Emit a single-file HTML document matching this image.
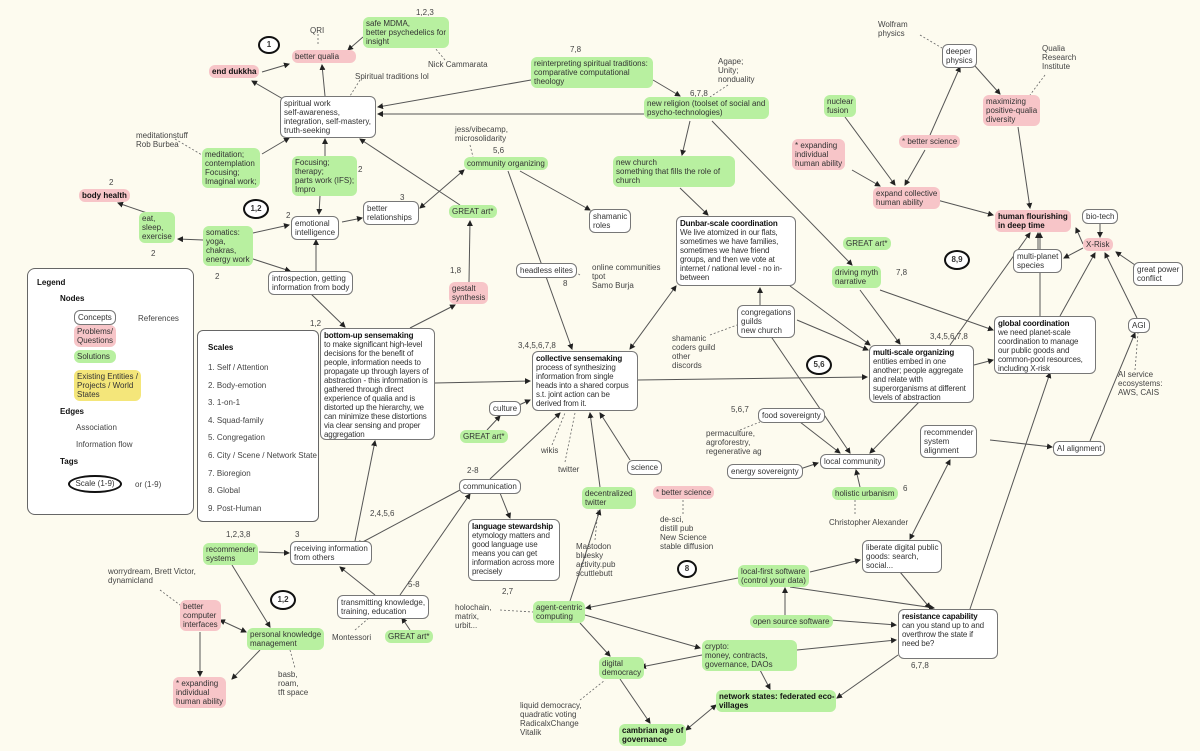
<!DOCTYPE html>
<html><head><meta charset="utf-8"><style>
body{margin:0;background:#fdfbef;}
#c{position:relative;width:1200px;height:751px;overflow:hidden;background:#fdfbef;font-family:"Liberation Sans",sans-serif;color:#333;}
.b{position:absolute;font-size:8px;line-height:9px;padding:2px 3px;border-radius:6px;box-sizing:border-box;white-space:nowrap}
.n{background:#fff;border:1px solid #777}
.p{background:#f7c5c8}
.g{background:#b8f0a0}
.t{position:absolute;font-size:8px;line-height:9px;white-space:nowrap;color:#444}
.cl{position:absolute;border:2.5px solid #111;border-radius:50%;font-size:8px;font-weight:bold;text-align:center;box-sizing:border-box;background:#fff}
.w{letter-spacing:-0.15px}
b{color:#111}
svg{position:absolute;left:0;top:0}
</style></head><body><div id="c">
<svg width="1200" height="751"><defs><marker id="a" markerWidth="6" markerHeight="6" refX="5" refY="3" orient="auto" markerUnits="userSpaceOnUse"><path d="M0,0L6,3L0,6z" fill="#222"/></marker><marker id="s" markerWidth="6" markerHeight="6" refX="1" refY="3" orient="auto" markerUnits="userSpaceOnUse"><path d="M6,0L0,3L6,6z" fill="#222"/></marker></defs>
<g stroke="#555" stroke-width="1" fill="none" marker-end="url(#a)">
<line x1="262" y1="72" x2="289" y2="64"/><line x1="325" y1="96" x2="322" y2="65"/><line x1="283" y1="99" x2="252" y2="81"/><line x1="363" y1="37" x2="348" y2="50"/>
<line x1="531" y1="80" x2="378" y2="107"/><line x1="644" y1="114" x2="378" y2="114"/><line x1="690" y1="121" x2="682" y2="155"/><line x1="712" y1="121" x2="852" y2="265"/>
<line x1="262" y1="154" x2="289" y2="138"/><line x1="325" y1="156" x2="325" y2="139"/><line x1="460" y1="205" x2="360" y2="139"/><line x1="320" y1="196" x2="319" y2="214"/>
<line x1="342" y1="222" x2="362" y2="218"/><line x1="464" y1="170" x2="420" y2="208" marker-start="url(#s)"/><line x1="520" y1="171" x2="590" y2="210"/><line x1="508" y1="171" x2="572" y2="349"/>
<line x1="469" y1="282" x2="470" y2="221"/><line x1="680" y1="188" x2="708" y2="215"/><line x1="150" y1="214" x2="118" y2="203"/><line x1="203" y1="240" x2="178" y2="239"/>
<line x1="253" y1="233" x2="289" y2="225"/><line x1="316" y1="271" x2="316" y2="240"/><line x1="250" y1="258" x2="290" y2="271"/><line x1="310" y1="293" x2="345" y2="327"/>
<line x1="410" y1="328" x2="455" y2="305"/><line x1="435" y1="383" x2="530" y2="381"/><line x1="676" y1="286" x2="630" y2="349" marker-start="url(#s)"/><line x1="638" y1="380" x2="867" y2="377"/>
<line x1="790" y1="286" x2="870" y2="345"/><line x1="860" y1="290" x2="900" y2="344"/><line x1="797" y1="320" x2="868" y2="350"/><line x1="760" y1="305" x2="760" y2="288"/>
<line x1="770" y1="335" x2="850" y2="453"/><line x1="974" y1="365" x2="993" y2="360"/><line x1="950" y1="345" x2="1030" y2="233"/><line x1="1040" y1="316" x2="1040" y2="233"/>
<line x1="1060" y1="316" x2="1095" y2="253"/><line x1="1083" y1="248" x2="1064" y2="258"/><line x1="1038" y1="249" x2="1038" y2="233"/><line x1="1100" y1="223" x2="1100" y2="237"/>
<line x1="1135" y1="265" x2="1116" y2="252"/><line x1="1137" y1="318" x2="1105" y2="253"/><line x1="1083" y1="244" x2="1076" y2="228"/><line x1="1090" y1="441" x2="1135" y2="333"/>
<line x1="990" y1="440" x2="1052" y2="447"/><line x1="880" y1="290" x2="993" y2="330"/><line x1="937" y1="200" x2="993" y2="215"/><line x1="925" y1="150" x2="905" y2="185"/>
<line x1="930" y1="135" x2="960" y2="67"/><line x1="845" y1="117" x2="895" y2="185"/><line x1="852" y1="170" x2="880" y2="186"/><line x1="975" y1="66" x2="1000" y2="94"/>
<line x1="1018" y1="127" x2="1030" y2="208"/><line x1="970" y1="609" x2="1050" y2="373"/><line x1="860" y1="487" x2="856" y2="470"/><line x1="800" y1="422" x2="840" y2="453"/>
<line x1="797" y1="470" x2="818" y2="463"/><line x1="920" y1="401" x2="870" y2="453"/><line x1="950" y1="460" x2="910" y2="539" marker-start="url(#s)"/><line x1="487" y1="430" x2="500" y2="416"/>
<line x1="490" y1="479" x2="560" y2="413"/><line x1="630" y1="460" x2="600" y2="413"/><line x1="600" y1="487" x2="590" y2="413"/><line x1="460" y1="490" x2="357" y2="545"/>
<line x1="500" y1="493" x2="510" y2="518"/><line x1="400" y1="595" x2="470" y2="494"/><line x1="375" y1="595" x2="340" y2="567"/><line x1="355" y1="541" x2="375" y2="441"/>
<line x1="259" y1="552" x2="289" y2="553"/><line x1="232" y1="565" x2="270" y2="627"/><line x1="220" y1="620" x2="246" y2="632" marker-start="url(#s)"/><line x1="200" y1="632" x2="200" y2="676"/>
<line x1="260" y1="650" x2="232" y2="679"/><line x1="410" y1="630" x2="402" y2="618"/><line x1="570" y1="601" x2="600" y2="510"/><line x1="738" y1="578" x2="586" y2="608"/>
<line x1="810" y1="572" x2="860" y2="560"/><line x1="790" y1="587" x2="934" y2="608"/><line x1="785" y1="615" x2="785" y2="588"/><line x1="830" y1="620" x2="896" y2="625"/>
<line x1="797" y1="650" x2="896" y2="640"/><line x1="702" y1="655" x2="641" y2="667"/><line x1="580" y1="623" x2="610" y2="656"/><line x1="585" y1="615" x2="700" y2="648"/>
<line x1="900" y1="572" x2="930" y2="608"/><line x1="620" y1="679" x2="650" y2="723"/><line x1="716" y1="705" x2="686" y2="730" marker-start="url(#s)"/><line x1="760" y1="670" x2="770" y2="689"/>
<line x1="898" y1="655" x2="837" y2="698"/><line x1="653" y1="80" x2="680" y2="96"/><line x1="519" y1="405" x2="530" y2="400"/>
<line x1="100" y1="442" x2="178" y2="437"/>
</g>
<g stroke="#666" stroke-width="0.8" fill="none" stroke-dasharray="2,2">
<line x1="318" y1="34" x2="318" y2="46"/><line x1="445" y1="60" x2="435" y2="48"/><line x1="360" y1="80" x2="350" y2="96"/><line x1="728" y1="85" x2="710" y2="97"/>
<line x1="470" y1="145" x2="473" y2="157"/><line x1="1045" y1="75" x2="1030" y2="95"/><line x1="920" y1="35" x2="942" y2="48"/><line x1="1135" y1="370" x2="1138" y2="333"/>
<line x1="552" y1="445" x2="565" y2="413"/><line x1="565" y1="462" x2="575" y2="413"/><line x1="160" y1="590" x2="180" y2="605"/><line x1="595" y1="540" x2="598" y2="510"/>
<line x1="580" y1="700" x2="605" y2="680"/><line x1="500" y1="610" x2="533" y2="612"/><line x1="683" y1="500" x2="683" y2="515"/><line x1="290" y1="650" x2="295" y2="668"/>
<line x1="355" y1="630" x2="370" y2="617"/><line x1="580" y1="275" x2="572" y2="270"/><line x1="710" y1="335" x2="737" y2="325"/><line x1="175" y1="139" x2="202" y2="155"/>
<line x1="855" y1="500" x2="855" y2="516"/><line x1="740" y1="430" x2="760" y2="422"/><line x1="100" y1="424" x2="178" y2="419"/>
</g></svg>

<div class="cl" style="left:258px;top:36px;width:22px;height:18px;line-height:13px">1</div>
<div class="cl" style="left:243px;top:199px;width:26px;height:20px;line-height:15px">1,2</div>
<div class="cl" style="left:806px;top:355px;width:26px;height:20px;line-height:15px">5,6</div>
<div class="cl" style="left:944px;top:250px;width:26px;height:20px;line-height:15px">8,9</div>
<div class="cl" style="left:270px;top:590px;width:26px;height:20px;line-height:15px">1,2</div>
<div class="cl" style="left:677px;top:560px;width:20px;height:18px;line-height:13px">8</div>

<div class="t" style="left:310px;top:26px">QRI</div>
<div class="t" style="left:416px;top:8px">1,2,3</div>
<div class="b p" style="left:292px;top:50px;width:64px">better qualia</div>
<div class="b g" style="left:363px;top:17px">safe MDMA,<br>better psychedelics for<br>insight</div>
<div class="t" style="left:428px;top:60px">Nick Cammarata</div>
<div class="b p" style="left:209px;top:65px"><b>end dukkha</b></div>
<div class="t" style="left:355px;top:72px">Spiritual traditions lol</div>
<div class="b n" style="left:280px;top:96px;width:96px">spiritual work<br>self-awareness,<br>integration, self-mastery,<br>truth-seeking</div>
<div class="t" style="left:570px;top:45px">7,8</div>
<div class="b g" style="left:531px;top:57px;width:122px">reinterpreting spiritual traditions:<br>comparative computational<br>theology</div>
<div class="t" style="left:718px;top:57px">Agape;<br>Unity;<br>nonduality</div>
<div class="t" style="left:690px;top:89px">6,7,8</div>
<div class="b g" style="left:644px;top:97px;width:125px">new religion (toolset of social and<br>psycho-technologies)</div>
<div class="t" style="left:136px;top:131px">meditationstuff<br>Rob Burbea</div>
<div class="b g" style="left:202px;top:148px">meditation;<br>contemplation<br>Focusing;<br>Imaginal work;</div>
<div class="b g" style="left:292px;top:156px">Focusing;<br>therapy;<br>parts work (IFS);<br>Impro</div>
<div class="t" style="left:358px;top:165px">2</div>
<div class="t" style="left:455px;top:125px">jess/vibecamp,<br>microsolidarity</div>
<div class="t" style="left:493px;top:146px">5,6</div>
<div class="b g" style="left:464px;top:157px">community organizing</div>
<div class="b g" style="left:613px;top:156px;width:122px">new church<br>something that fills the role of<br>church</div>
<div class="t" style="left:109px;top:178px">2</div>
<div class="b p" style="left:79px;top:189px"><b>body health</b></div>
<div class="b g" style="left:139px;top:212px">eat,<br>sleep,<br>exercise</div>
<div class="t" style="left:400px;top:193px">3</div>
<div class="b n" style="left:363px;top:201px;width:56px">better<br>relationships</div>
<div class="t" style="left:286px;top:211px">2</div>
<div class="b n" style="left:291px;top:216px">emotional<br>intelligence</div>
<div class="b g" style="left:449px;top:205px">GREAT art*</div>
<div class="b n" style="left:589px;top:209px">shamanic<br>roles</div>
<div class="b n w" style="left:676px;top:216px;width:120px;height:70px"><b>Dunbar-scale coordination</b><br>We live atomized in our flats,<br>sometimes we have families,<br>sometimes we have friend<br>groups, and then we vote at<br>internet / national level - no in-<br>between</div>
<div class="b g" style="left:203px;top:226px">somatics:<br>yoga,<br>chakras,<br>energy work</div>
<div class="t" style="left:151px;top:249px">2</div>
<div class="t" style="left:215px;top:272px">2</div>
<div class="b n" style="left:268px;top:271px">introspection, getting<br>information from body</div>
<div class="b n" style="left:516px;top:263px">headless elites</div>
<div class="t" style="left:563px;top:279px">8</div>
<div class="t" style="left:592px;top:263px">online communities<br>tpot<br>Samo Burja</div>
<div class="t" style="left:450px;top:266px">1,8</div>
<div class="b p" style="left:449px;top:282px">gestalt<br>synthesis</div>
<div class="b g" style="left:843px;top:237px">GREAT art*</div>
<div class="b g" style="left:832px;top:266px">driving myth<br>narrative</div>
<div class="t" style="left:896px;top:268px">7,8</div>

<div style="position:absolute;left:27px;top:268px;width:165px;height:245px;border:1px solid #666;border-radius:8px;background:#fff"></div>
<div class="t" style="left:37px;top:278px"><b>Legend</b></div>
<div class="t" style="left:60px;top:294px"><b>Nodes</b></div>
<div class="b n" style="left:74px;top:310px;width:42px">Concepts</div>
<div class="t" style="left:138px;top:314px">References</div>
<div class="b p" style="left:74px;top:325px">Problems/<br>Questions</div>
<div class="b g" style="left:74px;top:350px;width:42px">Solutions</div>
<div class="b" style="left:74px;top:370px;background:#f4e67a">Existing Entities /<br>Projects / World<br>States</div>
<div class="t" style="left:60px;top:407px"><b>Edges</b></div>
<div class="t" style="left:76px;top:423px">Association</div>
<div class="t" style="left:76px;top:440px">Information flow</div>
<div class="t" style="left:60px;top:457px"><b>Tags</b></div>
<div class="cl" style="left:68px;top:475px;width:54px;height:18px;line-height:13px;font-weight:normal">Scale (1-9)</div>
<div class="t" style="left:135px;top:480px">or  (1-9)</div>

<div style="position:absolute;left:197px;top:330px;width:120px;height:190px;border:1px solid #666;border-radius:6px;background:#fff"></div>
<div class="t" style="left:208px;top:343px"><b>Scales</b></div>
<div class="t" style="left:208px;top:359px;line-height:17.6px">1. Self / Attention<br>2. Body-emotion<br>3. 1-on-1<br>4. Squad-family<br>5. Congregation<br>6. City / Scene / Network State<br>7. Bioregion<br>8. Global<br>9. Post-Human</div>

<div class="t" style="left:310px;top:319px">1,2</div>
<div class="b n w" style="left:320px;top:328px;width:115px;height:112px"><b>bottom-up sensemaking</b><br>to make significant high-level<br>decisions for the benefit of<br>people, information needs to<br>propagate up through layers of<br>abstraction - this information is<br>gathered through direct<br>experience of qualia and is<br>distorted up the hierarchy, we<br>can minimize these distortions<br>via clear sensing and proper<br>aggregation</div>
<div class="t" style="left:518px;top:341px">3,4,5,6,7,8</div>
<div class="b n w" style="left:532px;top:351px;width:106px;height:60px"><b>collective sensemaking</b><br>process of synthesizing<br>information from single<br>heads into a shared corpus<br>s.t. joint action can be<br>derived from it.</div>
<div class="b n" style="left:737px;top:305px">congregations<br>guilds<br>new church</div>
<div class="t" style="left:672px;top:334px">shamanic<br>coders guild<br>other<br>discords</div>
<div class="t" style="left:930px;top:332px">3,4,5,6,7,8</div>
<div class="b n w" style="left:869px;top:345px;width:105px;height:58px"><b>multi-scale organizing</b><br>entities embed in one<br>another; people aggregate<br>and relate with<br>superorganisms at different<br>levels of abstraction</div>
<div class="b n w" style="left:994px;top:316px;width:102px;height:58px"><b>global coordination</b><br>we need planet-scale<br>coordination to manage<br>our public goods and<br>common-pool resources,<br>including X-risk</div>
<div class="b n" style="left:1128px;top:318px">AGI</div>
<div class="t" style="left:1118px;top:370px">AI service<br>ecosystems:<br>AWS, CAIS</div>
<div class="b p" style="left:995px;top:210px"><b>human flourishing<br>in deep time</b></div>
<div class="b n" style="left:1082px;top:209px">bio-tech</div>
<div class="b p" style="left:1083px;top:238px">X-Risk</div>
<div class="b n" style="left:1013px;top:249px">multi-planet<br>species</div>
<div class="b n" style="left:1133px;top:262px">great power<br>conflict</div>
<div class="t" style="left:878px;top:20px">Wolfram<br>physics</div>
<div class="b n" style="left:942px;top:44px">deeper<br>physics</div>
<div class="t" style="left:1042px;top:44px">Qualia<br>Research<br>Institute</div>
<div class="b g" style="left:824px;top:95px">nuclear<br>fusion</div>
<div class="b p" style="left:983px;top:95px">maximizing<br>positive-qualia<br>diversity</div>
<div class="b p" style="left:792px;top:139px">* expanding<br>individual<br>human ability</div>
<div class="b p" style="left:899px;top:135px">* better science</div>
<div class="b p" style="left:873px;top:187px">expand collective<br>human ability</div>
<div class="b n" style="left:489px;top:401px">culture</div>
<div class="b g" style="left:460px;top:430px">GREAT art*</div>
<div class="t" style="left:541px;top:446px">wikis</div>
<div class="t" style="left:558px;top:465px">twitter</div>
<div class="b n" style="left:627px;top:460px">science</div>
<div class="b p" style="left:653px;top:486px">* better science</div>
<div class="t" style="left:660px;top:515px">de-sci,<br>distill pub<br>New Science<br>stable diffusion</div>
<div class="b g" style="left:582px;top:487px">decentralized<br>twitter</div>
<div class="t" style="left:731px;top:405px">5,6,7</div>
<div class="b n" style="left:758px;top:408px">food sovereignty</div>
<div class="t" style="left:706px;top:429px">permaculture,<br>agroforestry,<br>regenerative ag</div>
<div class="b n" style="left:727px;top:464px">energy sovereignty</div>
<div class="b n" style="left:820px;top:454px">local community</div>
<div class="b g" style="left:832px;top:487px">holistic urbanism</div>
<div class="t" style="left:903px;top:484px">6</div>
<div class="t" style="left:829px;top:518px">Christopher Alexander</div>
<div class="b n" style="left:920px;top:425px">recommender<br>system<br>alignment</div>
<div class="b n" style="left:1053px;top:441px">AI  alignment</div>
<div class="t" style="left:467px;top:466px">2-8</div>
<div class="b n" style="left:459px;top:479px">communication</div>
<div class="t" style="left:370px;top:509px">2,4,5,6</div>
<div class="b n w" style="left:468px;top:519px;width:92px;height:62px"><b>language stewardship</b><br>etymology matters and<br>good language use<br>means you can get<br>information across more<br>precisely</div>
<div class="t" style="left:226px;top:530px">1,2,3,8</div>
<div class="t" style="left:295px;top:530px">3</div>
<div class="b g" style="left:203px;top:543px">recommender<br>systems</div>
<div class="b n" style="left:290px;top:541px">receiving information<br>from others</div>
<div class="t" style="left:108px;top:567px">worrydream, Brett Victor,<br>dynamicland</div>
<div class="b p" style="left:180px;top:600px">better<br>computer<br>interfaces</div>
<div class="t" style="left:408px;top:580px">5-8</div>
<div class="b n" style="left:337px;top:595px">transmitting knowledge,<br>training, education</div>
<div class="t" style="left:332px;top:633px">Montessori</div>
<div class="b g" style="left:385px;top:630px">GREAT art*</div>
<div class="b g" style="left:247px;top:628px">personal knowledge<br>management</div>
<div class="t" style="left:278px;top:670px">basb,<br>roam,<br>tft space</div>
<div class="b p" style="left:173px;top:677px">* expanding<br>individual<br>human ability</div>
<div class="t" style="left:576px;top:542px">Mastodon<br>bluesky<br>activity.pub<br>scuttlebutt</div>
<div class="t" style="left:502px;top:587px">2,7</div>
<div class="t" style="left:455px;top:603px">holochain,<br>matrix,<br>urbit...</div>
<div class="b g" style="left:533px;top:601px">agent-centric<br>computing</div>
<div class="b g" style="left:738px;top:565px">local-first software<br>(control your data)</div>
<div class="b n" style="left:862px;top:540px;width:80px">liberate digital public<br>goods: search,<br>social...</div>
<div class="b g" style="left:750px;top:615px">open source software</div>
<div class="b n w" style="left:898px;top:609px;width:100px;height:50px"><b>resistance capability</b><br>can you stand up to and<br>overthrow the state if<br>need be?</div>
<div class="b g" style="left:702px;top:640px;width:95px">crypto:<br>money, contracts,<br>governance, DAOs</div>
<div class="b g" style="left:599px;top:657px">digital<br>democracy</div>
<div class="t" style="left:911px;top:661px">6,7,8</div>
<div class="b g" style="left:716px;top:690px;width:120px"><b>network states: federated eco-<br>villages</b></div>
<div class="t" style="left:520px;top:701px">liquid democracy,<br>quadratic voting<br>RadicalxChange<br>Vitalik</div>
<div class="b g" style="left:619px;top:724px"><b>cambrian age of<br>governance</b></div>
</div></body></html>
